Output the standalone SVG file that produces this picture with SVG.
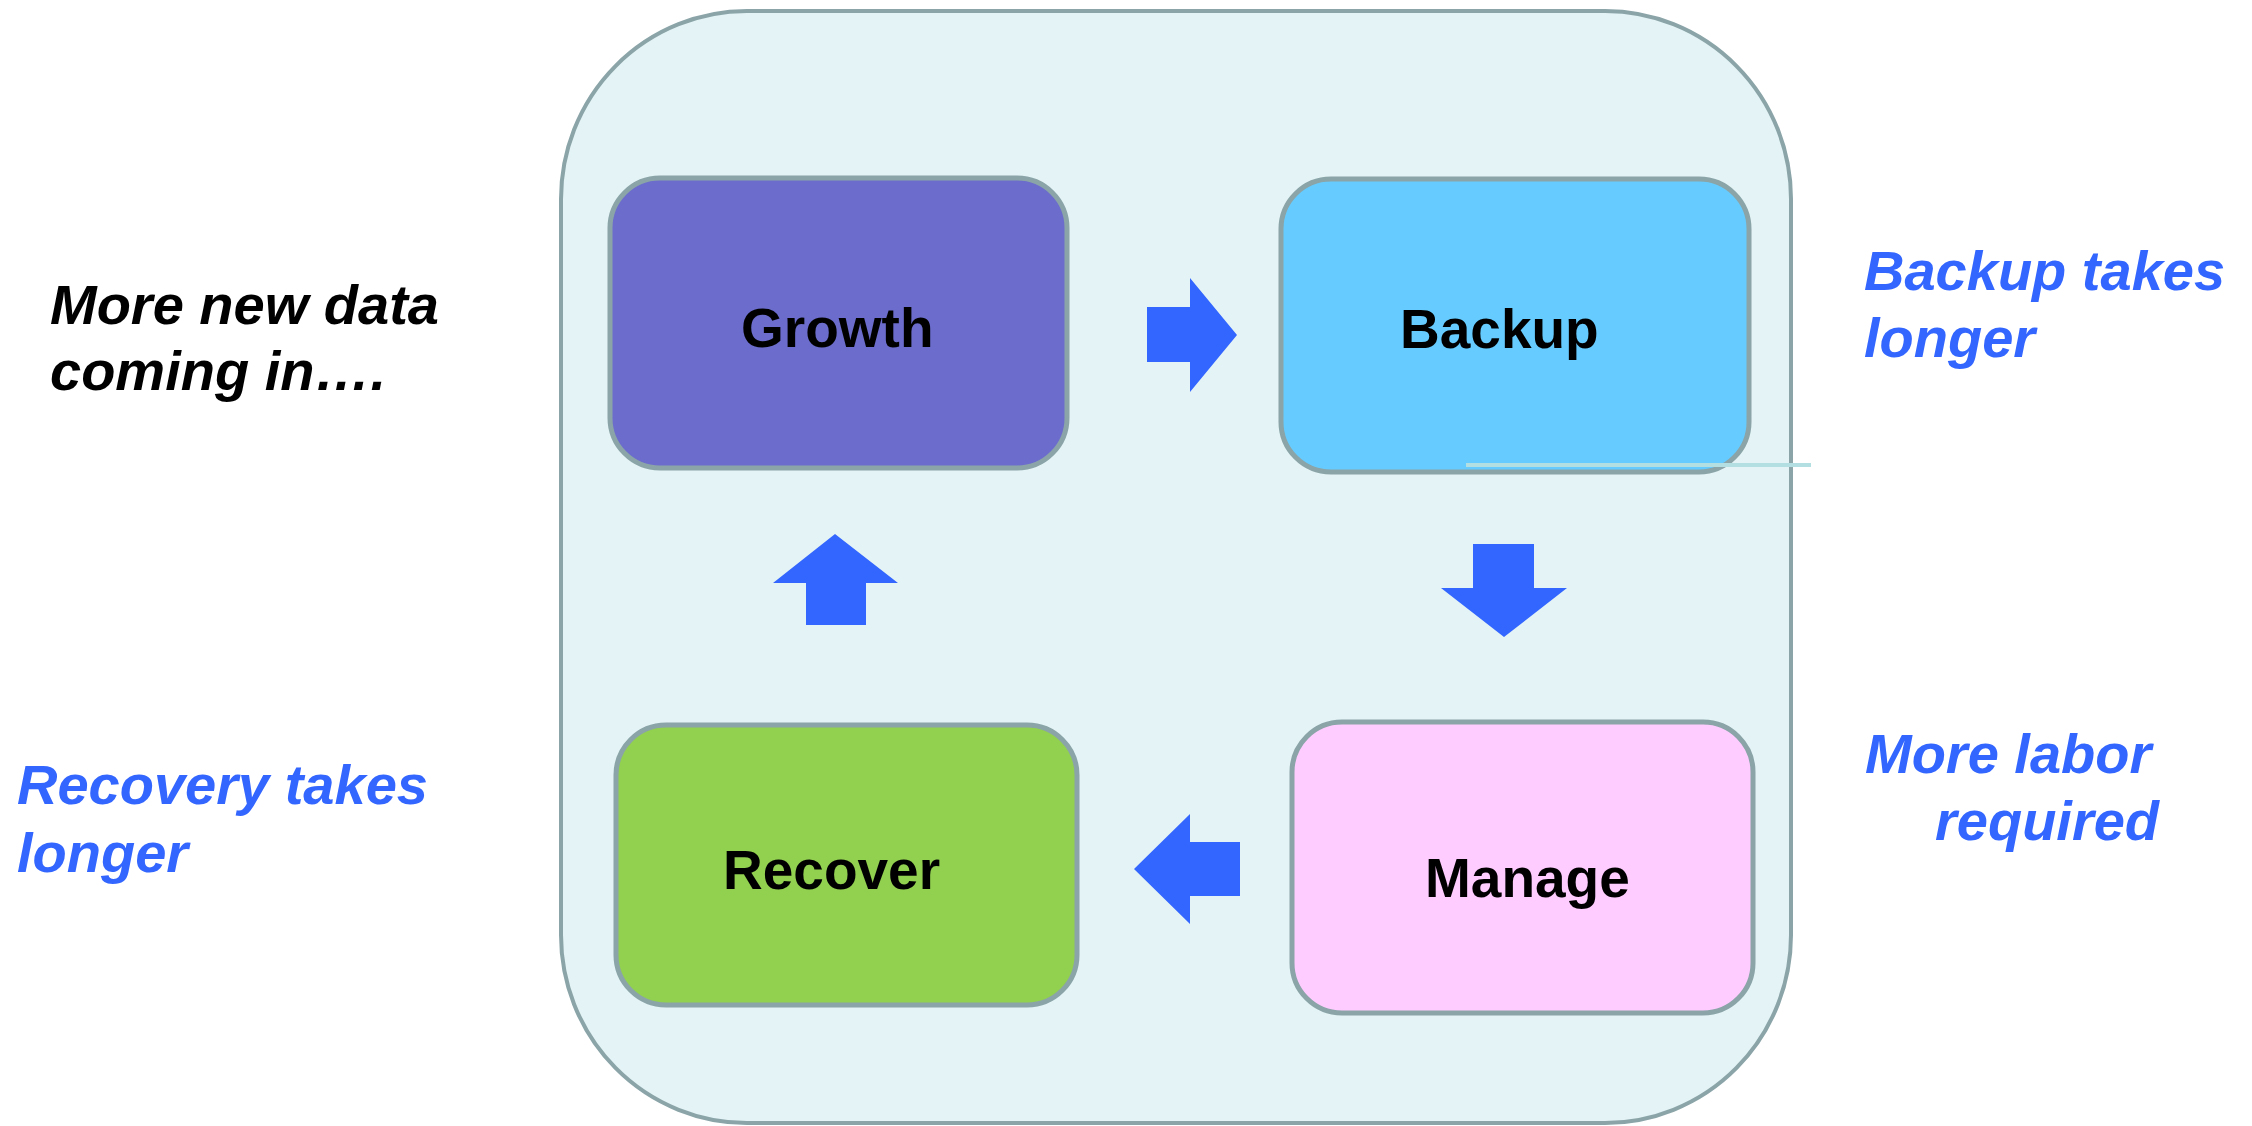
<svg xmlns="http://www.w3.org/2000/svg" width="2252" height="1126" viewBox="0 0 2252 1126">
  <style>
    .frame { fill: #e4f3f5; stroke: #8aa4a8; stroke-width: 4; }
    .box { stroke: #8aa4a8; stroke-width: 5; }
    .label { font-family: "Liberation Sans", Arial, sans-serif; font-weight: bold; font-size: 55px; fill: #000000; }
    .note { font-family: "Liberation Sans", Arial, sans-serif; font-weight: bold; font-style: italic; font-size: 56px; }
    .blue { fill: #3366ff; }
    .arrow { fill: #3366ff; }
  </style>

  <rect width="2252" height="1126" fill="#ffffff"/>

  <!-- cycle container -->
  <rect id="container" class="frame" x="561" y="11" width="1230" height="1112" rx="186" ry="188"/>

  <!-- stages -->
  <g id="growth">
    <rect class="box" x="610" y="178" width="457" height="290" rx="50" fill="#6b6ccc"/>
    <text class="label" x="741" y="347">Growth</text>
  </g>
  <g id="backup">
    <rect class="box" x="1281" y="179" width="468" height="293" rx="50" fill="#66ccff"/>
    <text class="label" x="1400" y="348">Backup</text>
  </g>
  <g id="manage">
    <rect class="box" x="1292" y="722" width="461" height="291" rx="50" fill="#ffccff"/>
    <text class="label" x="1425" y="897">Manage</text>
  </g>
  <g id="recover">
    <rect class="box" x="616" y="725" width="461" height="280" rx="50" fill="#92d050"/>
    <text class="label" x="723" y="889">Recover</text>
  </g>

  <!-- block arrows between stages -->
  <g id="connectors">
    <polygon class="arrow" points="1147,307 1190,307 1190,278 1237,335 1190,392 1190,362 1147,362"/>
    <polygon class="arrow" points="1473,544 1534,544 1534,588 1567,588 1504,637 1441,588 1473,588"/>
    <polygon class="arrow" points="1240,842 1190,842 1190,814 1134,869 1190,924 1190,896 1240,896"/>
    <polygon class="arrow" points="806,625 866,625 866,583 898,583 835,534 773,583 806,583"/>
  </g>

  <!-- thin rule -->
  <line x1="1466" y1="465" x2="1811" y2="465" stroke="#b3dfe3" stroke-width="4"/>

  <!-- side notes -->
  <g id="note-growth">
    <text class="note" x="50" y="324" fill="#000000">More new data</text>
    <text class="note" x="50" y="390" fill="#000000">coming in….</text>
  </g>
  <g id="note-backup">
    <text class="note blue" x="1864" y="290">Backup takes</text>
    <text class="note blue" x="1864" y="357">longer</text>
  </g>
  <g id="note-manage">
    <text class="note blue" x="1865" y="773">More labor</text>
    <text class="note blue" x="1935" y="840">required</text>
  </g>
  <g id="note-recover">
    <text class="note blue" x="17" y="804">Recovery takes</text>
    <text class="note blue" x="17" y="872">longer</text>
  </g>
</svg>
